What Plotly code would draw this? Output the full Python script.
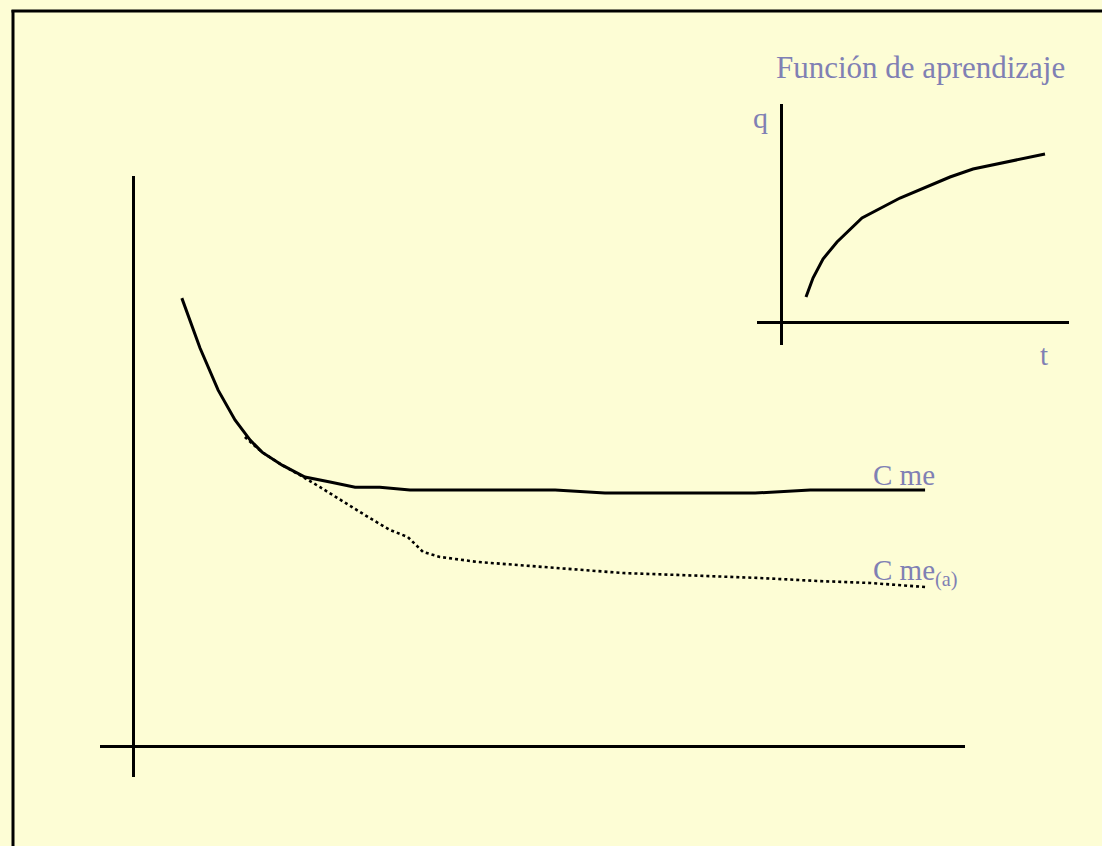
import plotly.graph_objects as go

# main chart: average cost (Cme) and average cost with learning (Cme(a))
cme_x = [1.48, 2.03, 2.58, 3.09, 3.55, 3.91, 4.52, 5.21, 5.97, 6.73, 7.48, 8.39, 12.79, 14.30, 18.85, 20.52, 24.0]
cme_y = [14.45, 12.84, 11.48, 10.52, 9.87, 9.48, 9.06, 8.68, 8.52, 8.35, 8.35, 8.26, 8.26, 8.16, 8.16, 8.26, 8.26]

cmea_x = [3.39, 3.91, 4.52, 5.06, 5.67, 6.42, 7.18, 7.79, 8.33, 8.79, 9.30, 10.42, 11.33, 12.33, 13.55, 14.85, 16.48, 19.0, 20.82, 22.33, 24.0]
cmea_y = [9.97, 9.48, 9.06, 8.74, 8.35, 7.84, 7.35, 6.97, 6.74, 6.26, 6.10, 5.94, 5.87, 5.77, 5.68, 5.58, 5.52, 5.42, 5.32, 5.26, 5.13]

# inset: learning function q(t)
learn_t = [2.5, 3.2, 4.2, 5.6, 8.1, 11.9, 16.9, 19.2, 26.4]
learn_q = [2.5, 4.4, 6.3, 8.0, 10.4, 12.4, 14.5, 15.3, 16.8]

W, H = 1102, 846
bg = "#FDFDD5"
txt = "#8080B4"
font = "Liberation Serif"


def px(x):
    return x / W


def py(y):
    return 1 - y / H


fig = go.Figure()
fig.add_trace(go.Scatter(x=cme_x, y=cme_y, mode="lines",
                         line=dict(color="black", width=3), xaxis="x", yaxis="y"))
fig.add_trace(go.Scatter(x=cmea_x, y=cmea_y, mode="lines",
                         line=dict(color="black", width=2.6, dash="dot"), xaxis="x", yaxis="y"))
fig.add_trace(go.Scatter(x=learn_t, y=learn_q, mode="lines",
                         line=dict(color="black", width=3), xaxis="x2", yaxis="y2"))

axis_common = dict(showgrid=False, showticklabels=False, ticks="", showline=False,
                   zeroline=True, zerolinecolor="black", zerolinewidth=3, fixedrange=True)

fig.update_layout(
    width=W, height=H,
    margin=dict(l=0, r=0, t=0, b=0),
    paper_bgcolor=bg, plot_bgcolor=bg,
    showlegend=False,
    xaxis=dict(domain=[px(100), px(965)], range=[-1, 25.21], **axis_common),
    yaxis=dict(domain=[py(777), py(176)], range=[-1, 18.39], **axis_common),
    xaxis2=dict(domain=[px(757), px(1069)], range=[-2.4, 28.8], anchor="y2", **axis_common),
    yaxis2=dict(domain=[py(345), py(104)], range=[-2.3, 21.8], anchor="x2", **axis_common),
)

# outer frame: only the left and top edges fall inside the picture
fig.add_shape(type="line", xref="paper", yref="paper",
              x0=px(13), y0=0, x1=px(13), y1=py(10),
              line=dict(color="black", width=3))
fig.add_shape(type="line", xref="paper", yref="paper",
              x0=px(11.5), y0=py(11), x1=1, y1=py(11),
              line=dict(color="black", width=3))

labels = [
    ("Función de aprendizaje", 774, 67, "left", 31),
    ("q", 760, 117, "center", 30),
    ("t", 1044, 355, "center", 29),
    ("C me", 871, 475, "left", 29),
    ("C me<sub>(a)</sub>", 871, 572, "left", 29),
]
for text, x, y, anchor, size in labels:
    fig.add_annotation(text=text, xref="paper", yref="paper", x=px(x), y=py(y),
                       xanchor=anchor, yanchor="middle", showarrow=False,
                       font=dict(family=font, size=size, color=txt))

fig.write_html("out.html", config={"displayModeBar": False},
               post_script="document.body.style.margin='0';")
